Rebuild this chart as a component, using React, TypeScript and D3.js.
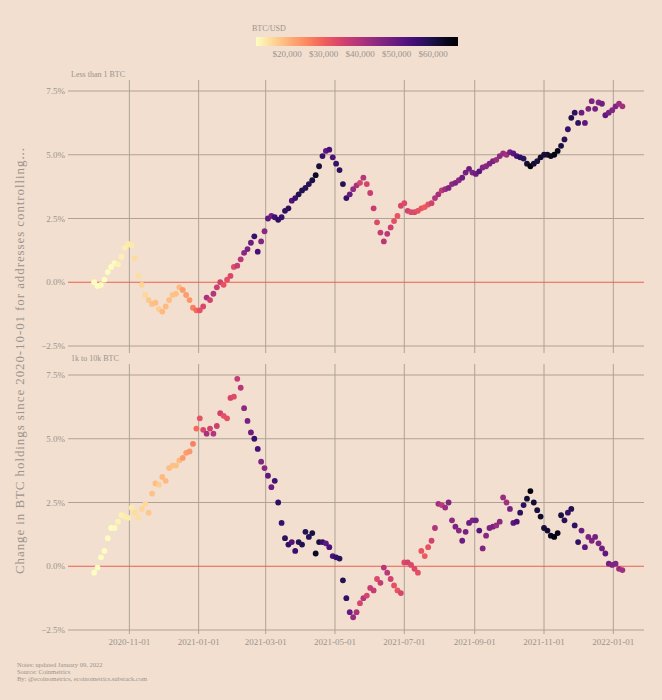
import * as d3 from 'd3'

// one reading every 3 days, starting 2020-10-01
const START = new Date(2020, 9, 1)
const STEP_DAYS = 3

const btcPrice = [
  10600, 10670, 10670, 11300, 11430, 11320, 11750, 12990, 13030, 13270,
  13780, 14000, 15590, 15330, 16320, 15960, 17800, 18680, 19160, 17150,
  19700, 19450, 19150, 18550, 18800, 19400, 23100, 22800, 23700, 26300,
  28900, 32100, 34000, 40600, 35600, 39200, 36200, 35500, 32100, 32500,
  34300, 33500, 36900, 38900, 44800, 47200, 49100, 55900, 54100, 46300,
  45100, 50900, 48900, 54900, 57300, 55900, 57600, 57500, 52800, 55900,
  58900, 59000, 58700, 58100, 60200, 63100, 60600, 56500, 50700, 53800,
  53600, 56600, 57700, 58800, 56700, 49700, 43500, 40600, 34800, 39300,
  34700, 36700, 36900, 33600, 37300, 39100, 38300, 35600, 32500, 31600,
  34400, 33600, 35300, 33900, 33800, 32700, 31600, 30800, 32100, 35400,
  39900, 41600, 38200, 42800, 46400, 44400, 47000, 44800, 48900, 47700,
  49000, 47100, 49300, 51800, 46100, 45200, 47100, 47300, 43000, 44900,
  43200, 41600, 47700, 51500, 53900, 57400, 57400, 61500, 65900, 61300,
  60400, 62200, 61000, 61400, 63300, 64900, 64200, 60300, 58100, 56300,
  58900, 57200, 56900, 49400, 50600, 47100, 46700, 47600, 46700, 48600,
  50800, 47600, 46300, 46500, 43100, 41800,
]

// % change in holdings, addresses with less than 1 BTC
const lessThan1 = [
  0.0, -0.15, -0.1, 0.1, 0.4, 0.6, 0.75, 0.7, 1.0, 1.35,
  1.5, 1.45, 0.95, 0.25, -0.1, -0.5, -0.7, -0.85, -0.8, -1.05,
  -1.15, -0.95, -0.7, -0.5, -0.45, -0.2, -0.3, -0.5, -0.7, -1.0,
  -1.1, -1.1, -0.95, -0.6, -0.7, -0.45, -0.2, 0.0, -0.1, 0.1,
  0.25, 0.6, 0.65, 0.9, 1.15, 1.3, 1.55, 1.8, 1.2, 1.6,
  2.0, 2.5, 2.6, 2.55, 2.45, 2.55, 2.8, 2.9, 3.2, 3.3,
  3.45, 3.6, 3.7, 3.85, 4.0, 4.2, 4.55, 4.95, 5.15, 5.2,
  4.9, 4.65, 4.4, 3.85, 3.3, 3.45, 3.65, 3.8, 3.9, 4.1,
  3.85, 3.5, 2.9, 2.35, 1.95, 1.6, 1.9, 2.15, 2.4, 2.6,
  3.0, 3.1, 2.8, 2.75, 2.75, 2.8, 2.9, 2.95, 3.05, 3.1,
  3.3, 3.45, 3.6, 3.65, 3.7, 3.85, 3.9, 4.0, 4.1, 4.3,
  4.45, 4.3, 4.25, 4.35, 4.5, 4.55, 4.65, 4.75, 4.8, 4.95,
  5.05, 5.0, 5.1, 5.05, 4.95, 4.9, 4.85, 4.65, 4.55, 4.65,
  4.75, 4.9, 5.0, 5.0, 4.95, 5.0, 5.15, 5.35, 5.6, 6.0,
  6.45, 6.65, 6.25, 6.65, 6.25, 6.8, 7.1, 6.8, 7.05, 7.0,
  6.55, 6.65, 6.75, 6.9, 7.0, 6.9,
]

// % change in holdings, addresses with 1k to 10k BTC
const from1kTo10k = [
  -0.25, -0.05, 0.35, 0.6, 1.1, 1.5, 1.5, 1.75, 2.0, 1.95,
  1.9, 2.3, 2.1, 1.9, 2.25, 2.45, 2.1, 2.85, 3.25, 3.2,
  3.5, 3.35, 3.85, 3.95, 3.95, 4.15, 4.25, 4.45, 4.5, 4.8,
  5.4, 5.8, 5.35, 5.2, 5.4, 5.2, 5.5, 6.0, 5.9, 5.8,
  6.6, 6.65, 7.35, 7.0, 6.2, 5.7, 5.25, 5.0, 4.6, 4.1,
  3.85, 3.55, 3.1, 3.35, 2.5, 1.7, 1.1, 0.85, 0.95, 0.6,
  0.95, 0.85, 1.35, 1.15, 1.3, 0.5, 0.95, 0.95, 0.9, 0.75,
  0.4, 0.35, 0.3, -0.55, -1.25, -1.8, -2.0, -1.8, -1.45, -1.25,
  -1.15, -0.85, -0.95, -0.5, -0.65, -0.05, -0.25, -0.5, -0.75, -0.95,
  -1.05, 0.15, 0.15, 0.05, -0.1, -0.25, 0.6, 0.4, 0.75, 1.0,
  1.5, 2.45, 2.4, 2.3, 2.5, 1.8, 1.55, 1.4, 1.0, 1.35,
  1.7, 1.8, 1.8, 1.4, 0.7, 1.2, 1.5, 1.55, 1.6, 1.75,
  2.7, 2.5, 2.25, 1.7, 1.75, 2.1, 2.4, 2.65, 2.95, 2.5,
  2.2, 1.95, 1.5, 1.4, 1.2, 1.15, 1.3, 2.0, 1.8, 2.1,
  2.25, 1.6, 0.95, 1.4, 0.75, 1.15, 1.0, 1.15, 0.9, 0.7,
  0.5, 0.1, 0.05, 0.1, -0.1, -0.15,
]

const yTicks = [-2.5, 0, 2.5, 5, 7.5]
const priceTicks = [20000, 30000, 40000, 50000, 60000]
const notes = [
  'Notes: updated January 09, 2022',
  'Source: Coinmetrics',
  'By: @ecoinometrics, ecoinometrics.substack.com',
]

const panels = [
  { label: 'Less than 1 BTC', values: lessThan1, top: 91, bottom: 346, gridTop: 80, gridBottom: 353 },
  { label: '1k to 10k BTC', values: from1kTo10k, top: 375, bottom: 630, gridTop: 364, gridBottom: 634 },
]

const BG = '#f2dfcf'
const GRID = '#aea298'
const TEXT = '#9a938e'
const FONT = "'Liberation Serif', 'DejaVu Serif', serif"

export default function App() {
  const dates = btcPrice.map((_, i) => d3.timeDay.offset(START, i * STEP_DAYS))

  const x = d3.scaleTime()
    .domain([new Date(2020, 8, 8), new Date(2022, 0, 28)])
    .range([68, 644])
  const xTicks = x.ticks(d3.timeMonth.every(2))
  const fmt = d3.timeFormat('%Y-%m-%d')

  const color = d3.scaleSequential((t: number) => d3.interpolateMagma(1 - t))
    .domain([11500, 66800])
  const [p0, p1] = color.domain()
  const legendX = d3.scaleLinear().domain([p0, p1]).range([256, 458])
  const stops = d3.range(0, 1.0001, 0.05)

  return (
    <svg width={662} height={700} style={{ position: 'absolute', left: 0, top: 0 }} fontFamily={FONT}>
      <defs>
        <linearGradient id="btcGrad" x1="0" x2="1" y1="0" y2="0">
          {stops.map(t => (
            <stop key={t} offset={t} stopColor={color(p0 + t * (p1 - p0))} />
          ))}
        </linearGradient>
      </defs>
      <rect width={662} height={700} fill={BG} />

      {/* legend */}
      <text x={252} y={31} fontSize={8} fill={TEXT}>BTC/USD</text>
      <rect x={256} y={37} width={202} height={9} fill="url(#btcGrad)" />
      {priceTicks.map(p => (
        <text key={p} x={legendX(p)} y={57} fontSize={9} fill={TEXT} textAnchor="middle">
          {d3.format('$,')(p)}
        </text>
      ))}

      {panels.map(panel => {
        const y = d3.scaleLinear().domain([-2.5, 7.5]).range([panel.bottom, panel.top])
        return (
          <g key={panel.label}>
            <text x={71} y={panel.gridTop - 3} fontSize={8} fill={TEXT}>{panel.label}</text>
            {xTicks.map(t => (
              <line key={+t} x1={x(t)} x2={x(t)} y1={panel.gridTop} y2={panel.gridBottom} stroke={GRID} strokeWidth={1} />
            ))}
            {yTicks.map(v => (
              <g key={v}>
                <line x1={68} x2={644} y1={y(v)} y2={y(v)} stroke={v === 0 ? '#e8614f' : GRID} strokeWidth={1} />
                <text x={65} y={y(v) + 3} fontSize={9} fill={TEXT} textAnchor="end">{d3.format('.1f')(v)}%</text>
              </g>
            ))}
            {panel.values.map((v, i) => (
              <circle key={i} cx={x(dates[i])} cy={y(v)} r={2.9} fill={color(btcPrice[i])} />
            ))}
          </g>
        )
      })}

      {xTicks.map(t => (
        <text key={+t} x={x(t)} y={645} fontSize={9} fill={TEXT} textAnchor="middle">{fmt(t)}</text>
      ))}

      <text transform="translate(24,361) rotate(-90)" fontSize={13} fill={TEXT} textAnchor="middle"
        textLength={426} lengthAdjust="spacing">
        Change in BTC holdings since 2020-10-01 for addresses controlling...
      </text>

      {notes.map((n, i) => (
        <text key={n} x={17} y={667 + i * 7} fontSize={6.5} fill={TEXT}>{n}</text>
      ))}
    </svg>
  )
}
